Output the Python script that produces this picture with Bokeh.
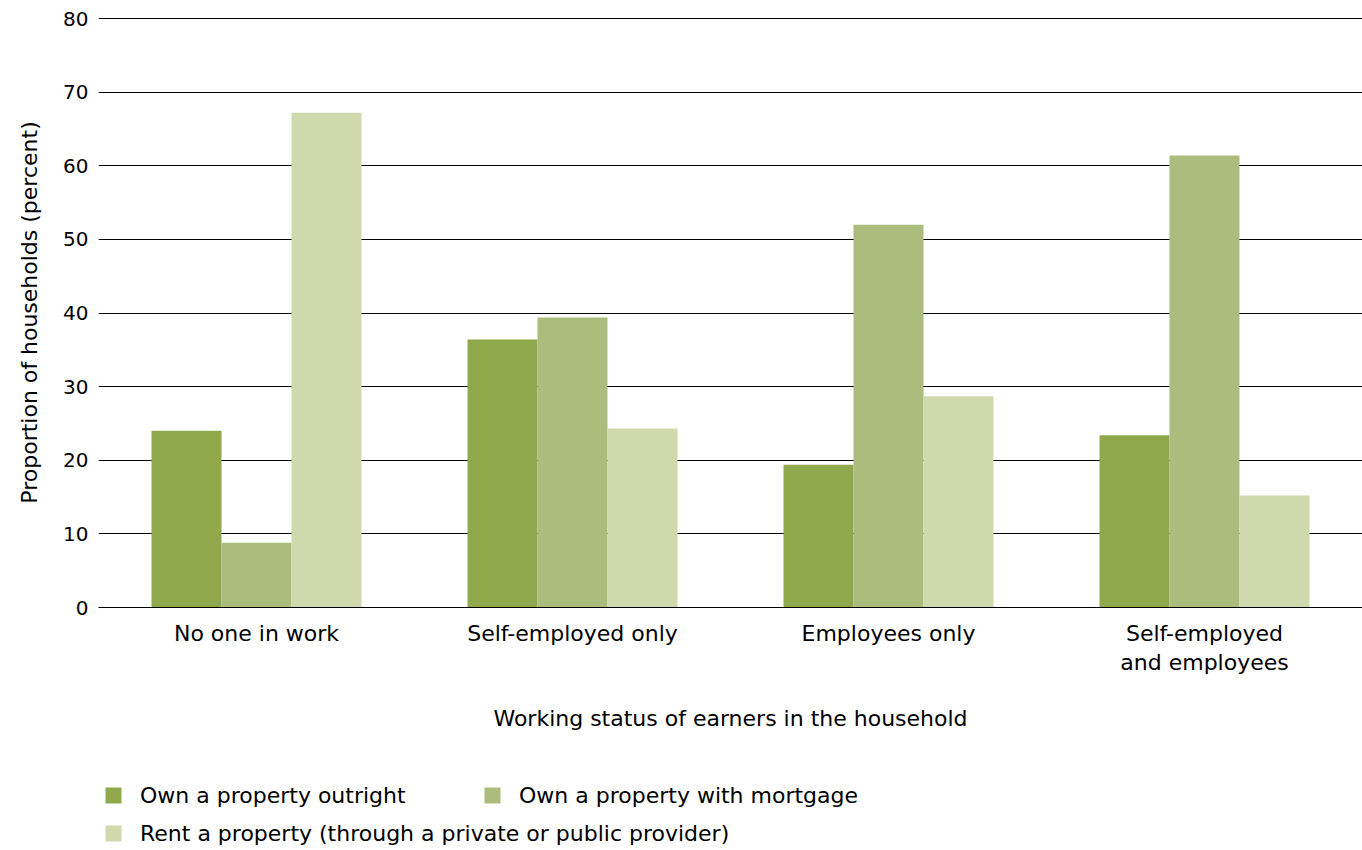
import numpy as np
from bokeh.plotting import figure
from bokeh.models import ColumnDataSource, FactorRange, Range1d, Legend, LegendItem
from bokeh.layouts import column
from bokeh.transform import dodge
from bokeh.embed import file_html
from bokeh.resources import INLINE

categories = ["No one in work", "Self-employed only", "Employees only", "Self-employed\nand employees"]
outright = [24.0, 36.4, 19.4, 23.4]
mortgage = [8.8, 39.4, 52.0, 61.4]
rent = [67.2, 24.3, 28.7, 15.2]
series_names = ["Own a property outright", "Own a property with mortgage",
                "Rent a property (through a private or public provider)"]
colors = ["#8fa84c", "#acbc7c", "#d0d8ae"]
y_ticks = [0, 10, 20, 30, 40, 50, 60, 70, 80]

FONT = "DejaVu Sans"
FS_TICK = "20px"
FS = "22px"

src = ColumnDataSource(dict(cat=categories, outright=outright, mortgage=mortgage, rent=rent))

H1 = 760
p = figure(width=1362, height=H1, x_range=FactorRange(*categories, range_padding=0, factor_padding=0),
           y_range=Range1d(0, 80.136), output_backend="svg", toolbar_location=None,
           min_border_left=98, min_border_top=17, min_border_right=0, min_border_bottom=H1 - 607)
p.outline_line_color = None
p.background_fill_color = "white"
p.border_fill_color = "white"

bw = 0.2215
p.vbar(x=dodge("cat", -bw, range=p.x_range), top="outright", width=bw, source=src,
       fill_color=colors[0], line_color=None)
p.vbar(x=dodge("cat", 0, range=p.x_range), top="mortgage", width=bw, source=src,
       fill_color=colors[1], line_color=None)
p.vbar(x=dodge("cat", bw, range=p.x_range), top="rent", width=bw, source=src,
       fill_color=colors[2], line_color=None)

p.xgrid.grid_line_color = None
p.ygrid.grid_line_color = "black"
p.ygrid.grid_line_width = 1
p.yaxis.ticker = y_ticks

p.yaxis.axis_line_color = None
p.yaxis.major_tick_line_color = None
p.yaxis.minor_tick_line_color = None
p.yaxis.major_tick_out = 0
p.yaxis.major_tick_in = 0
p.yaxis.major_label_standoff = 10
p.yaxis.axis_label = "Proportion of households (percent)"
p.yaxis.axis_label_standoff = 18

p.xaxis.axis_line_color = "black"
p.xaxis.major_tick_line_color = None
p.xaxis.major_tick_out = 0
p.xaxis.major_tick_in = 0
p.xaxis.major_label_standoff = 13
p.xaxis.major_label_text_line_height = 1.17
p.xaxis.axis_label = "Working status of earners in the household"
p.xaxis.axis_label_standoff = 28

for ax in (p.xaxis[0], p.yaxis[0]):
    ax.major_label_text_font = FONT
    ax.major_label_text_color = "black"
    ax.axis_label_text_font = FONT
    ax.axis_label_text_font_size = FS
    ax.axis_label_text_font_style = "normal"
    ax.axis_label_text_color = "black"
p.yaxis.major_label_text_font_size = FS_TICK
p.xaxis.major_label_text_font_size = FS

# legend strip below the chart (its frame is aligned with the chart's frame)
H2 = 850 - H1
q = figure(width=1362, height=H2, x_range=Range1d(0, 1), y_range=Range1d(0, 1),
           output_backend="svg", toolbar_location=None,
           x_axis_location=None, y_axis_location=None,
           min_border_left=0, min_border_right=0, min_border_top=0, min_border_bottom=0)
q.outline_line_color = None
q.grid.grid_line_color = None
q.background_fill_color = "white"
q.border_fill_color = "white"

swatch = ColumnDataSource(dict(x=np.array([np.nan]), top=np.array([np.nan])))
g = [q.vbar(x="x", top="top", width=0.1, source=swatch, fill_color=c, line_color=None) for c in colors]

def make_legend(items, loc):
    return Legend(items=items, location=loc, orientation="horizontal",
                  glyph_width=20, glyph_height=20, label_height=26, label_width=342,
                  label_standoff=17, spacing=0, padding=0, margin=0,
                  border_line_color=None, background_fill_alpha=0,
                  label_text_font=FONT, label_text_font_size=FS, label_text_color="black")

leg1 = make_legend([LegendItem(label=series_names[0], renderers=[g[0]]),
                    LegendItem(label=series_names[1], renderers=[g[1]])], (5, H2 - 26 - (795 - H1 - 13)))
leg2 = make_legend([LegendItem(label=series_names[2], renderers=[g[2]])], (5, H2 - 26 - (833 - H1 - 13)))
q.add_layout(leg1, "center")
q.add_layout(leg2, "center")

layout = column(p, q, spacing=0)
open("out.html", "w").write(file_html(layout, INLINE))
